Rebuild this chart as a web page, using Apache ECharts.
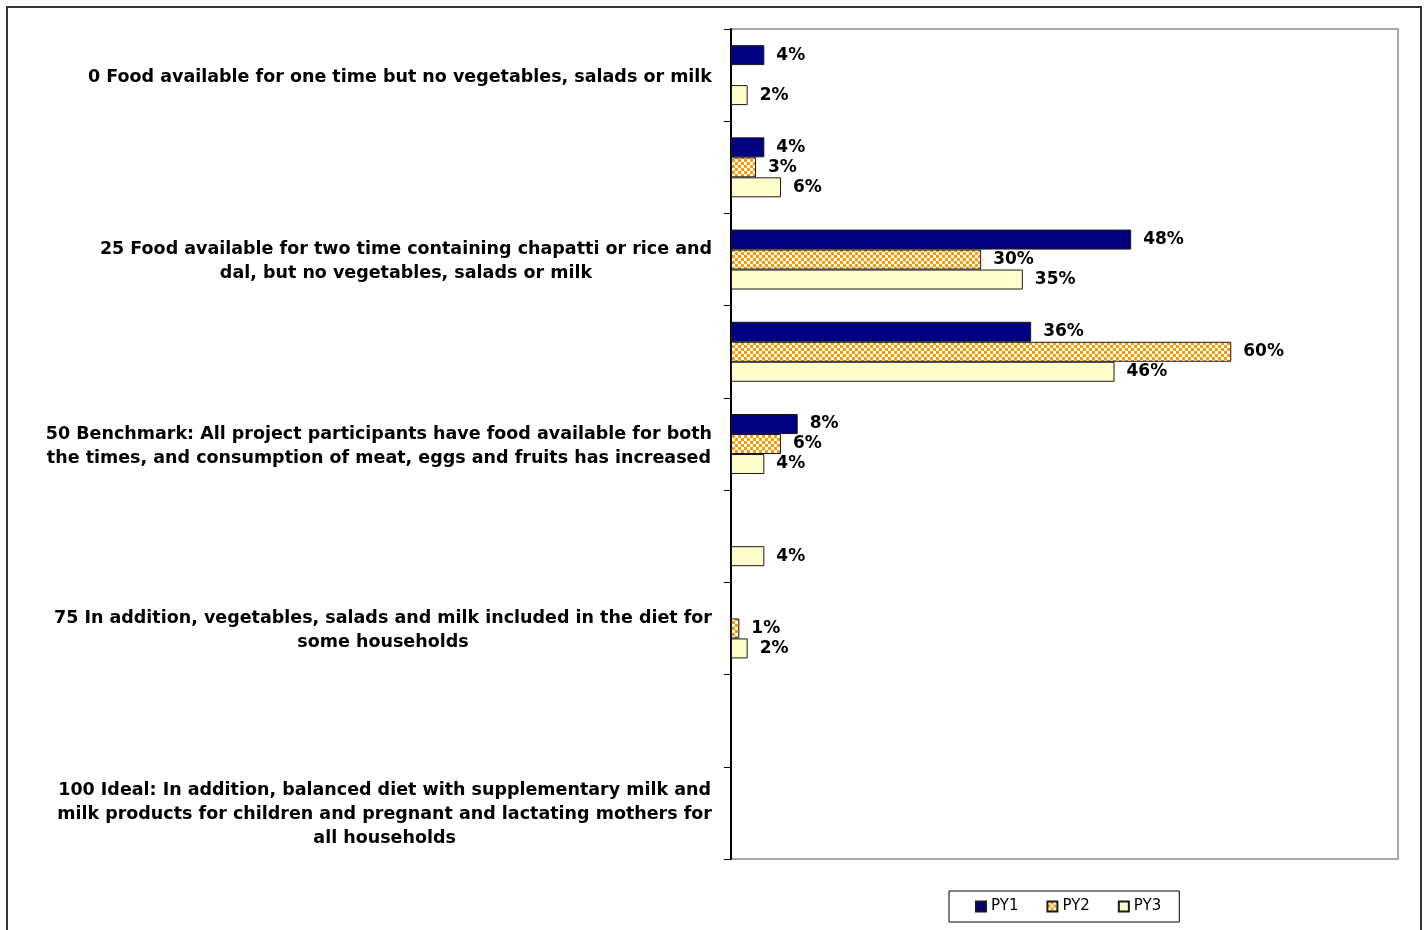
<!DOCTYPE html>
<html>
<head>
<meta charset="utf-8">
<script src="https://cdn.jsdelivr.net/npm/echarts@6/dist/echarts.min.js"></script>
<style>
  html, body { margin: 0; padding: 0; background: #fff; }
  #chart { width: 1427px; height: 930px; }
</style>
</head>
<body>
<div id="chart"></div>
<script>
// Rating scale levels (odd rows are the in-between steps, left unlabelled)
const levels = [
  '0 Food available for one time but no vegetables, salads or milk',
  '',
  '25 Food available for two time containing chapatti or rice and\ndal, but no vegetables, salads or milk',
  '',
  '50 Benchmark: All project participants have food available for both\nthe times, and consumption of meat, eggs and fruits has increased',
  '',
  '75 In addition, vegetables, salads and milk included in the diet for\nsome households',
  '',
  '100 Ideal: In addition, balanced diet with supplementary milk and\nmilk products for children and pregnant and lactating mothers for\nall households'
];

// Share of households (%) per project year
const seriesNames = ['PY1', 'PY2', 'PY3'];
const py1 = [4, 4, 48, 36, 8, null, null, null, null];
const py2 = [null, 3, 30, 60, 6, null, 1, null, null];
const py3 = [2, 6, 35, 46, 4, 4, 2, null, null];

// Orange / white checkerboard fill
function checkerPattern() {
  const c = document.createElement('canvas');
  c.width = 6; c.height = 6;
  const g = c.getContext('2d');
  g.fillStyle = '#FF9900';
  g.fillRect(0, 0, 6, 6);
  g.fillStyle = '#FFFFFF';
  g.fillRect(0, 0, 3, 3);
  g.fillRect(3, 3, 3, 3);
  return { image: c, repeat: 'repeat' };
}

const FONT = 'DejaVu Sans';
const chart = echarts.init(document.getElementById('chart'));

const valueLabel = {
  show: true,
  position: 'right',
  distance: 12,
  fontFamily: FONT,
  fontWeight: 'bold',
  fontSize: 17,
  color: '#000',
  formatter: p => (p.value == null ? '' : p.value + '%')
};

function barSeries(name, data, fill) {
  return {
    name: name,
    type: 'bar',
    data: data,
    barGap: '0%',
    barCategoryGap: '35%',
    itemStyle: { color: fill, borderColor: '#1a1a1a', borderWidth: 1 },
    label: valueLabel,
    emphasis: { disabled: true },
    animation: false
  };
}

chart.setOption({
  backgroundColor: '#fff',
  animation: false,
  graphic: [{
    type: 'rect',
    silent: true,
    shape: { x: 7, y: 7, width: 1414, height: 940 },
    style: { fill: 'none', stroke: '#333', lineWidth: 2 },
    z: 100
  }],
  grid: {
    left: 731, top: 29, right: 29, bottom: 71,
    show: true, borderColor: '#a8a8a8', borderWidth: 2
  },
  legend: {
    data: seriesNames,
    left: 949, top: 891,
    padding: [8, 18, 8, 26],
    itemGap: 28,
    itemWidth: 10, itemHeight: 10,
    icon: 'rect',
    borderColor: '#000', borderWidth: 1,
    textStyle: { fontFamily: 'DejaVu Sans', fontSize: 15, color: '#000' },
    selectedMode: false
  },
  xAxis: {
    type: 'value',
    min: 0, max: 80,
    show: false,
    splitLine: { show: false }
  },
  yAxis: {
    type: 'category',
    inverse: true,
    data: levels,
    axisLine: { show: true, lineStyle: { color: '#000', width: 2 } },
    axisTick: { show: true, length: 7, lineStyle: { color: '#000', width: 1 } },
    axisLabel: {
      margin: 19,
      align: 'right',
      interval: 0,
      formatter: v => v ? v.split('\n').map(l => '{c|' + l + '}').join('\n') : '',
      rich: {
        c: {
          align: 'center',
          fontFamily: FONT,
          fontWeight: 'bold',
          fontSize: 17.5,
          lineHeight: 24,
          color: '#000',
          padding: [4, 0, 0, 0]
        }
      }
    }
  },
  series: [
    barSeries(seriesNames[0], py1, '#000080'),
    barSeries(seriesNames[1], py2, checkerPattern()),
    barSeries(seriesNames[2], py3, '#FFFFCC')
  ]
});
</script>
</body>
</html>
